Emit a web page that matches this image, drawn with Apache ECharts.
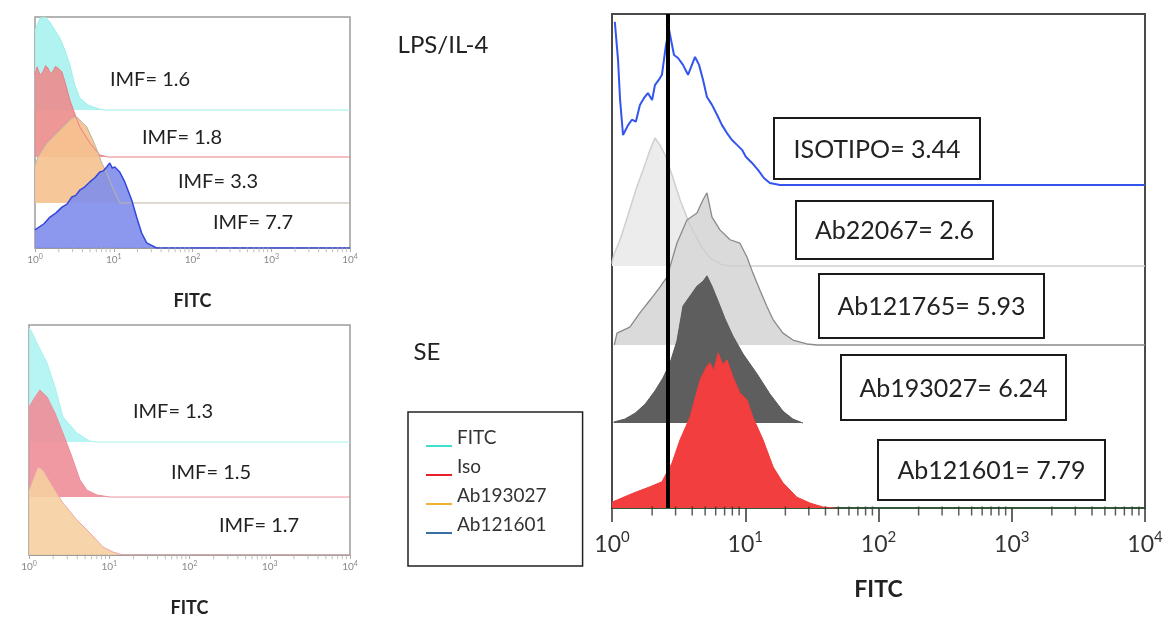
<!DOCTYPE html>
<html>
<head>
    <meta charset="utf-8">
    <title>FITC histograms</title>
    <script src="https://cdn.jsdelivr.net/npm/echarts/dist/echarts.min.js"></script>
    <style>
        body { margin: 0; background: #fff; }
    </style>
</head>
<body>
    <div id="main" style="width: 1171px;height:618px;"></div>
    <script type="text/javascript">
        var myChart = echarts.init(document.getElementById('main'));

        // histograms: [FITC value, counts above the curve's own baseline]
        // top-left panel (LPS/IL-4)
        const tlFitc = [[1, 34.6], [1.03, 34.6], [1.16, 39.8], [1.34, 40.3], [1.55, 38.1], [1.79, 34.6], [2.07, 31.2], [2.4, 26], [2.77, 19.5], [3.21, 10.8], [3.71, 5.2], [4.69, 2.2], [6.65, 0.4], [8, 0], [10000, 0]];
        const tlIso = [[1, 35.5], [1.06, 39], [1.16, 35.5], [1.26, 36.8], [1.36, 39.5], [1.46, 38.5], [1.58, 36], [1.69, 37.2], [1.82, 39.2], [1.95, 38.5], [2.2, 36.8], [2.4, 32.5], [2.77, 24.7], [3.21, 18.6], [3.71, 13], [4.97, 6.1], [6.65, 0.9], [8.4, 0], [10000, 0]];
        const tlAb193027 = [[1, 16.5], [1.09, 19.9], [1.42, 26], [1.9, 30.3], [2.54, 34.6], [2.94, 36.8], [3.4, 37.2], [3.93, 35], [4.55, 32.9], [5.42, 27.3], [6.27, 22.1], [7.05, 17.3], [8.15, 13], [9.7, 6.5], [11.9, 0], [10000, 0]];
        const tlAb121601 = [[1, 7.8], [1.06, 7.8], [1.3, 10.5], [1.55, 13.4], [1.85, 15.2], [2.2, 17.7], [2.55, 19], [2.94, 22.1], [3.3, 22.8], [3.71, 25.1], [4.3, 26.5], [4.97, 28.6], [5.8, 30.5], [6.65, 32.9], [7.4, 33.4], [8.15, 35.1], [8.9, 36.8], [9.6, 34.6], [10.3, 35.1], [11.9, 32.9], [13.8, 28.6], [16.9, 20.8], [19.5, 13.4], [22.6, 6.5], [26.2, 2.2], [35, 0], [10000, 0]];

        // bottom-left panel (SE)
        const blFitc = [[1, 49.6], [1.09, 47.8], [1.26, 43], [1.68, 34.3], [2.11, 23.9], [2.65, 10.9], [3.96, 3.9], [5.75, 0.4], [7, 0], [10000, 0]];
        const blIso = [[1, 39.1], [1.19, 43.5], [1.37, 46.5], [1.68, 43.5], [2.11, 36.5], [2.65, 27.8], [3.43, 17.4], [4.32, 7.4], [5.28, 3], [7.03, 0.9], [10.2, 0], [10000, 0]];
        const blAb193027 = [[1, 28.3], [1.29, 38.3], [1.49, 37], [1.99, 29.6], [2.65, 22.6], [3.96, 15.2], [5.75, 9.6], [8.36, 3.5], [11.1, 1.3], [14.8, 0], [10000, 0]];

        // right panel
        const rIsotipo = [[1.05, 33], [1.07, 32.8], [1.11, 25.3], [1.15, 17.2], [1.21, 10.1], [1.32, 12.1], [1.41, 13.2], [1.51, 12.8], [1.62, 16.2], [1.74, 17.6], [1.86, 18.6], [2.0, 17.2], [2.1, 20.2], [2.25, 21.3], [2.37, 22.3], [2.54, 28.3], [2.68, 31.4], [2.92, 26.3], [3.13, 25.7], [3.41, 24.3], [3.72, 22.3], [3.98, 24.3], [4.2, 25.9], [4.5, 24.3], [4.82, 21.3], [5.16, 17.8], [5.63, 16.2], [6.14, 14.2], [6.69, 12.1], [7.29, 10.5], [7.95, 9.1], [8.67, 8.1], [9.46, 7.1], [10.1, 5.7], [11.2, 4.5], [12.5, 3.0], [13.8, 1.4], [15.3, 0.4], [18.2, 0], [10000, 0]];
        const rAb22067 = [[1, 0.5], [1.03, 2.2], [1.15, 5.3], [1.32, 10.3], [1.51, 15.4], [1.71, 19.4], [1.93, 23.5], [2.1, 25.9], [2.29, 24.5], [2.5, 22.5], [2.82, 18.4], [3.24, 13.4], [3.85, 8.3], [4.58, 4.3], [5.44, 1.6], [6.46, 0.4], [7.69, 0], [10000, 0]];
        const rAb121765 = [[1.04, 0], [1.09, 2.4], [1.36, 3.6], [1.62, 6.5], [1.93, 9.1], [2.29, 11.7], [2.59, 13.8], [3.07, 20.6], [3.65, 25.3], [4.34, 26.7], [4.82, 29.4], [5.16, 30.8], [5.63, 25.9], [6.46, 23.3], [7.69, 21.3], [9.12, 20.6], [10.3, 17.8], [11.4, 14.6], [12.9, 11.1], [14.6, 7.7], [16.2, 5.1], [19.2, 2.4], [22.8, 1.0], [29, 0.2], [34.5, 0], [10000, 0]];
        const rAb193027 = [[1.03, 0.2], [1.25, 0.8], [1.49, 2.0], [1.77, 3.8], [2.1, 6.5], [2.41, 9.1], [2.72, 12.1], [3.07, 16.6], [3.41, 23.7], [3.85, 25.7], [4.34, 27.7], [4.82, 28.7], [5.16, 29.8], [5.63, 27.7], [6.25, 24.7], [7.05, 21.1], [8.09, 17.6], [9.62, 14], [12.3, 9.9], [15.3, 5.9], [19.2, 2.4], [22.8, 0.8], [27.1, 0]];
        const rAb121601 = [[1, 1.2], [1.09, 1.6], [1.44, 3.0], [1.93, 4.3], [2.37, 5.3], [2.82, 9.1], [3.24, 13.8], [3.85, 18.4], [4.58, 25.9], [5.1, 28.5], [5.44, 29.4], [5.8, 27.8], [6.25, 31.4], [6.8, 29], [7.29, 30], [8.09, 26.5], [9.12, 23.3], [10.3, 21.9], [11.4, 18.4], [13.6, 13.8], [16.2, 8.3], [19.2, 5.1], [24.4, 2.2], [30.6, 1.0], [38.3, 0.2], [47.2, 0]];

        const isotypeGate = 2.6;
        const imfTop = ['1.6', '1.8', '3.3', '7.7'];
        const imfBottom = ['1.3', '1.5', '1.7'];
        const rightLabels = ['ISOTIPO= 3.44', 'Ab22067= 2.6', 'Ab121765= 5.93', 'Ab193027= 6.24', 'Ab121601= 7.79'];
        const legendNames = ['FITC', 'Iso', 'Ab193027', 'Ab121601'];
        const legendColors = ['#40e0d0', '#e8202a', '#f0b030', '#3a6ea5'];
        const logMinorTicks = [2, 3, 4, 5, 6, 7, 8, 9, 20, 30, 40, 50, 60, 70, 80, 90, 200, 300, 400, 500, 600, 700, 800, 900, 2000, 3000, 4000, 5000, 6000, 7000, 8000, 9000];

        // baselines of the stacked curves, in y units (0-100 per panel)
        const base = {
            tl: [59.7, 39.4, 19.5, 0],
            bl: [49.1, 25.2, 0],
            r: [65.4, 49, 33, 17.2, 0]
        };

        function hist(name, g, pts, b, st) {
            return {
                name: name, type: 'line', xAxisIndex: g, yAxisIndex: g,
                data: pts.map(p => [p[0], b + p[1]]),
                symbol: 'none', showSymbol: false, silent: true,
                itemStyle: { color: st.legend || st.line },
                lineStyle: { color: st.line, width: st.width || 1, type: st.type || 'solid' },
                areaStyle: st.fill ? { color: st.fill, opacity: st.opacity == null ? 1 : st.opacity, origin: b } : null
            };
        }

        function minorTicks(g, color, size) {
            return {
                type: 'scatter', xAxisIndex: g, yAxisIndex: g, silent: true, clip: false,
                data: logMinorTicks.map(v => [v, 0]),
                symbol: 'rect', symbolSize: size, symbolOffset: [0, size[1] / 3],
                itemStyle: { color: color }, z: 5
            };
        }

        function powLabel(v) {
            return '{b|10}{s|' + Math.round(Math.log10(v)) + '}';
        }

        function logAxis(g, small) {
            return {
                type: 'log', logBase: 10, gridIndex: g, min: 1, max: 10000, splitNumber: 4,
                name: 'FITC', nameLocation: 'middle',
                nameGap: small ? 44 : 70,
                nameTextStyle: { fontFamily: 'Lato', fontWeight: 'bold', fontSize: small ? 18 : 23, color: '#222', verticalAlign: 'top' },
                axisLine: { show: true, lineStyle: { color: small ? '#9a9a9a' : '#2f5f3a', width: small ? 1 : 1.5 } },
                axisTick: { show: true, length: small ? 4 : 14, lineStyle: { color: small ? '#aaa' : '#333', width: small ? 1 : 1.5 } },
                splitLine: { show: false },
                axisLabel: {
                    margin: small ? 5 : 22,
                    formatter: powLabel,
                    rich: small ? {
                        b: { fontFamily: 'Lato', fontSize: 10, color: '#888', verticalAlign: 'bottom', lineHeight: 12 },
                        s: { fontFamily: 'Lato', fontSize: 7, color: '#888', verticalAlign: 'top', lineHeight: 7 }
                    } : {
                        b: { fontFamily: 'Lato', fontSize: 23, color: '#333', verticalAlign: 'bottom', lineHeight: 26 },
                        s: { fontFamily: 'Lato', fontSize: 15, color: '#333', verticalAlign: 'top', lineHeight: 15 }
                    }
                }
            };
        }

        function yAx(g) {
            return { type: 'value', gridIndex: g, min: 0, max: 100, show: false };
        }

        function txt(x, y, text, size, weight) {
            return {
                type: 'text', x: x, y: y, z: 100, silent: true,
                style: { text: text, fill: '#222', font: (weight || 'normal') + ' ' + size + 'px Lato', align: 'center', verticalAlign: 'middle' }
            };
        }

        const imfTopPos = [[150, 80], [182, 138], [218, 182], [253, 223]];
        const imfBottomPos = [[173, 412], [211, 473], [259, 526]];
        const boxRects = [[774, 118, 206, 61], [796, 201, 197, 58], [819, 274, 225, 64], [841, 355, 225, 65], [878, 440, 227, 60]];

        const graphics = [
            txt(443, 45, 'LPS/IL-4', 24),
            txt(427, 352, 'SE', 24)
        ];
        imfTop.forEach((v, i) => graphics.push(txt(imfTopPos[i][0], imfTopPos[i][1], 'IMF= ' + v, 20)));
        imfBottom.forEach((v, i) => graphics.push(txt(imfBottomPos[i][0], imfBottomPos[i][1], 'IMF= ' + v, 20)));
        rightLabels.forEach((t, i) => {
            const r = boxRects[i];
            graphics.push({
                type: 'rect', z: 99, silent: true,
                shape: { x: r[0], y: r[1], width: r[2], height: r[3] },
                style: { fill: '#fff', stroke: '#1a1a1a', lineWidth: 2 }
            });
            graphics.push(txt(r[0] + r[2] / 2, r[1] + r[3] / 2 + 1, t, 25));
        });

        var option = {
            animation: false,
            backgroundColor: '#fff',
            grid: [
                { left: 35, top: 17, width: 315, height: 231, show: true, borderColor: '#9c9c9c', borderWidth: 1.5, outerBoundsMode: 'none' },
                { left: 29, top: 325, width: 321, height: 230, show: true, borderColor: '#9c9c9c', borderWidth: 1.5, outerBoundsMode: 'none' },
                { left: 612, top: 14, width: 533, height: 494, show: true, borderColor: '#4a4a4a', borderWidth: 2, outerBoundsMode: 'none' }
            ],
            xAxis: [logAxis(0, true), logAxis(1, true), logAxis(2, false)],
            yAxis: [yAx(0), yAx(1), yAx(2)],
            legend: {
                data: legendNames.map((n, i) => ({ name: n, itemStyle: { color: legendColors[i] } })),
                orient: 'vertical', left: 408, top: 412,
                padding: [16, 36, 32, 18],
                borderColor: '#222', borderWidth: 1.5,
                itemWidth: 26, itemHeight: 20, itemGap: 10,
                // a tiny dot at the top keeps the underline at the bottom of the icon box
                icon: 'path://M0,0L0.01,0L0.01,0.01Z M0,17L26,17L26,19L0,19Z',
                selectedMode: false,
                textStyle: { fontFamily: 'Lato', fontSize: 19, color: '#333' }
            },
            graphic: graphics,
            series: [
                hist('FITC', 0, tlFitc, base.tl[0], { line: '#9eeee8', fill: '#a9f2ee', opacity: 0.9, legend: legendColors[0] }),
                hist('Iso', 0, tlIso, base.tl[1], { line: '#ec7d86', fill: '#ec8c8c', opacity: 0.9, legend: legendColors[1] }),
                hist('Ab193027', 0, tlAb193027, base.tl[2], { line: '#bdb3a6', fill: '#f5c28f', opacity: 0.92, legend: legendColors[2] }),
                hist('Ab121601', 0, tlAb121601, base.tl[3], { line: '#3446dc', width: 1.5, fill: '#7f8deb', opacity: 0.9, legend: legendColors[3] }),
                minorTicks(0, '#b0b0b0', [1, 5]),

                hist('FITC', 1, blFitc, base.bl[0], { line: '#a8f2ee', fill: '#aef4f2', opacity: 0.9, legend: legendColors[0] }),
                hist('Iso', 1, blIso, base.bl[1], { line: '#ec8f9c', fill: '#ee8e99', opacity: 0.9, legend: legendColors[1] }),
                hist('Ab193027', 1, blAb193027, base.bl[2], { line: '#e9a9a9', fill: '#f6cfa0', opacity: 0.9, legend: legendColors[2] }),
                minorTicks(1, '#b0b0b0', [1, 5]),

                hist('ISOTIPO', 2, rIsotipo, base.r[0], { line: '#3355ee', width: 2 }),
                hist('Ab22067', 2, rAb22067, base.r[1], { line: '#cfcfcf', width: 1.5, fill: '#ececec' }),
                hist('Ab121765', 2, rAb121765, base.r[2], { line: '#8a8a8a', width: 1.3, fill: '#dadada' }),
                hist('Ab193027', 2, rAb193027, base.r[3], { line: '#5a5a5a', width: 1, fill: '#5e5e5e' }),
                Object.assign(hist('Ab121601', 2, rAb121601, base.r[4], { line: '#f23c3c', width: 1, fill: '#f23e3e' }), {
                    markLine: {
                        silent: true, symbol: ['none', 'none'], label: { show: false },
                        lineStyle: { color: '#000', width: 4, type: 'solid' },
                        data: [{ xAxis: isotypeGate }]
                    }
                }),
                minorTicks(2, '#333', [1.5, 9])
            ]
        };

        myChart.setOption(option);
    </script>
</body>
</html>
